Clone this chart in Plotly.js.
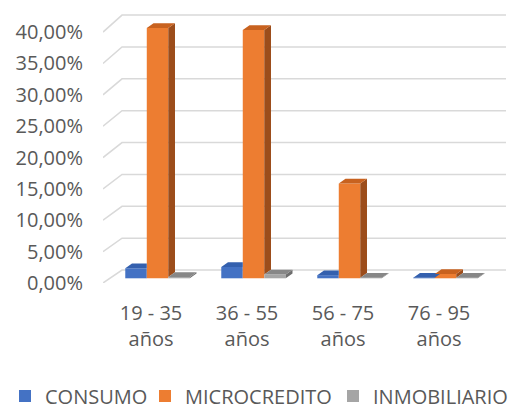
<!DOCTYPE html>
<html><head><meta charset="utf-8">
<script src="https://cdn.plot.ly/plotly-3.0.1.min.js"></script>
<style>html,body{margin:0;padding:0;background:#fff}</style></head>
<body>
<div id="chart" style="width:513px;height:412px"></div>
<script>
// ---- data ----
const categories = ['19 - 35<br>años', '36 - 55<br>años', '56 - 75<br>años', '76 - 95<br>años'];
const seriesNames = ['CONSUMO', 'MICROCREDITO', 'INMOBILIARIO'];
const consumo = [0.016, 0.018, 0.005, 0.001];
const microcredito = [0.399, 0.396, 0.151, 0.007];
const inmobiliario = [0.002, 0.006, 0.001, 0.001];
const yTickValues = [0, 0.05, 0.10, 0.15, 0.20, 0.25, 0.30, 0.35, 0.40];

// ---- styling / geometry ----
const frontColors = ['#4472C4', '#ED7D31', '#A5A5A5'];
const topColors   = ['#3460AE', '#C8621F', '#878787'];
const sideColors  = ['#28508F', '#9C4D1B', '#6E6E6E'];
const FONT = 'Open Sans, Liberation Sans, sans-serif';
const TXT = '#595959';
const GRID = '#D9D9D9';
const backDX = 0.198, backDY = 0.0207, backK = 1.016;   // wall depth offset
const BASE = 0.0075;       // bars sit a bit into the depth
const BAR_SHIFT = 0.068;   // group shift due to depth
const BW = 0.224;          // bar width
const DX = 0.07, DY = 0.0075; // bar depth projection
const XR = [-0.5, 3.5 + backDX], YR = [0, 0.432];
const legendNames = ['legend', 'legend2', 'legend3'];
const legendX = [5, 145, 333];

const series = [consumo, microcredito, inmobiliario];
const idx = categories.map((c, i) => i);

const traces = [];

// grid: back wall lines + side diagonals (on the lower subplot)
const gx = [], gy = [];
yTickValues.forEach(v => {
  const yb = v * backK + backDY;
  gx.push(-0.5, -0.5 + backDX, 3.5 + backDX, null);
  gy.push(v, yb, yb, null);
});
traces.push({type: 'scatter', mode: 'lines', x: gx, y: gy, line: {color: GRID, width: 1.5},
  hoverinfo: 'skip', showlegend: false, xaxis: 'x', yaxis: 'y'});

// front faces as bars (upper, overlaying subplot)
series.forEach((vals, k) => {
  traces.push({
    type: 'bar', name: seriesNames[k], x: idx, y: vals,
    base: vals.map(() => BASE), width: BW,
    offset: BAR_SHIFT + (k - 1.5) * BW,
    marker: {color: frontColors[k], line: {width: 0}},
    hoverinfo: 'skip', xaxis: 'x2', yaxis: 'y2', legend: legendNames[k]
  });
});

// top and side faces
series.forEach((vals, k) => {
  const tx = [], ty = [], sx = [], sy = [];
  vals.forEach((v, i) => {
    const xl = i + BAR_SHIFT + (k - 1.5) * BW, xr = xl + BW;
    const top = BASE + v;
    const next = k < series.length - 1 ? series[k + 1][i] : 0;
    if (next >= v + DY) {
      tx.push(xl, xr, xr, xl + DX, xl, null);
    } else {
      tx.push(xl, xr, xr + DX, xl + DX, xl, null);
    }
    ty.push(top, top, top + DY, top + DY, top, null);
    const low = Math.min(next, v);
    if (v > low) {
      sx.push(xr, xr, xr + DX, xr + DX, xr, null);
      sy.push(BASE + low, top, top + DY, BASE + low + DY, BASE + low, null);
    }
  });
  traces.push({type: 'scatter', mode: 'lines', x: sx, y: sy, fill: 'toself', fillcolor: sideColors[k],
    line: {width: 0, color: sideColors[k]}, hoverinfo: 'skip', showlegend: false, xaxis: 'x2', yaxis: 'y2'});
  traces.push({type: 'scatter', mode: 'lines', x: tx, y: ty, fill: 'toself', fillcolor: topColors[k],
    line: {width: 0, color: topColors[k]}, hoverinfo: 'skip', showlegend: false, xaxis: 'x2', yaxis: 'y2'});
});

const legendBase = {
  orientation: 'h', xref: 'container', yref: 'container', xanchor: 'left',
  y: 16 / 412, yanchor: 'middle', bgcolor: 'rgba(0,0,0,0)',
  font: {size: 20, color: TXT, family: FONT}
};

const layout = {
  width: 513, height: 412,
  margin: {l: 103, r: 7, t: 12, b: 129, autoexpand: false},
  paper_bgcolor: '#fff', plot_bgcolor: 'rgba(0,0,0,0)',
  separators: ',.',
  barmode: 'overlay',
  font: {family: FONT, color: TXT, size: 20},
  xaxis: {
    range: XR, tickvals: idx, ticktext: categories,
    showgrid: false, zeroline: false, showline: false, ticks: '',
    ticklabelstandoff: 16, tickfont: {size: 20, color: TXT, family: FONT}, fixedrange: true
  },
  yaxis: {
    range: YR, tickvals: yTickValues, tickformat: '.2%',
    showgrid: false, zeroline: false, showline: false, ticks: '',
    ticklabelstandoff: 19, tickfont: {size: 20, color: TXT, family: FONT}, fixedrange: true
  },
  xaxis2: {overlaying: 'x', range: XR, visible: false, fixedrange: true},
  yaxis2: {overlaying: 'y', range: YR, visible: false, fixedrange: true},
  showlegend: true
};
legendNames.forEach((ln, k) => {
  layout[ln] = Object.assign({}, legendBase, {x: legendX[k] / 513});
});

Plotly.newPlot('chart', traces, layout, {displayModeBar: false, staticPlot: true});
</script>
</body></html>
